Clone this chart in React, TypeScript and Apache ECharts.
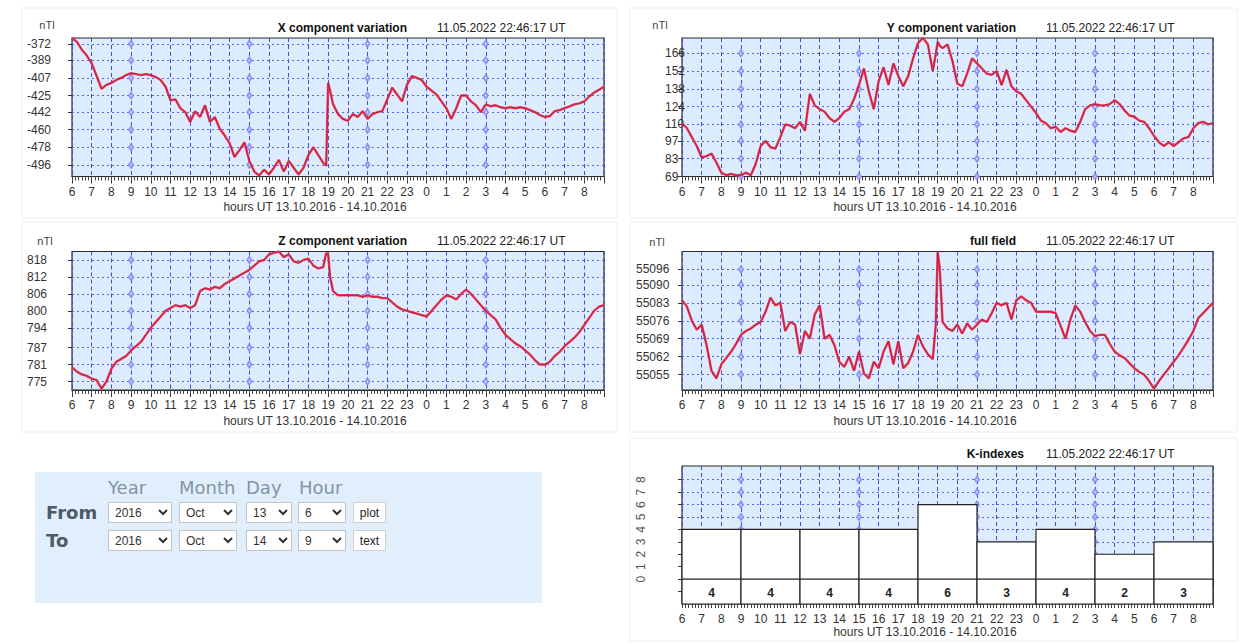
import React, { useEffect, useRef } from "react";
import * as echarts from "echarts";

// ---------- data ----------
const START_HOUR_UT = 6; // 13.10.2016 06:00 UT
const SPAN_HOURS = 27; // until 14.10.2016 09:00 UT
const MINOR_TICKS_PER_HOUR = 6;
const TIMESTAMP = "11.05.2022 22:46:17 UT";
const HOURS_TITLE = "hours UT 13.10.2016 - 14.10.2016";

// sampling times (hours since 06:00 UT), quarter-hourly plus two samples around the 19:00 jump
const SAMPLE_HOURS: number[] = (() => {
  const h: number[] = [];
  for (let i = 0; i <= 108; i++) h.push(i / 4);
  h.splice(52, 0, 12.9);
  h.splice(54, 0, 13.1);
  return h;
})();

const X_NT = [
  -366, -370, -378, -384, -392, -405, -418, -414, -412, -409, -407, -404,
  -402, -403, -404, -403, -404, -406, -409, -416, -430, -429, -438, -442,
  -452, -441, -447, -435, -452, -447, -459, -466, -474, -488, -481, -473,
  -492, -503, -507, -501, -506, -499, -491, -503, -492, -499, -506, -499,
  -486, -478, -486, -494,
  -497, -412, -420,
  -434, -444, -449,
  -451, -444, -447, -441, -449, -444, -442, -441, -429, -417, -424, -431,
  -414, -405, -407, -409, -416, -420, -424, -431, -438, -449, -438, -425,
  -425, -431, -435, -442, -434, -436, -435, -437, -438, -437, -438, -437,
  -438, -440, -442, -445, -447, -446, -441, -440, -438, -436, -434, -433,
  -431, -426, -422, -419, -416,
];

const Y_NT = [
  111, 107, 100, 93, 84, 85, 87, 80, 72, 70, 71, 70,
  70, 72, 70, 79, 93, 97, 92, 91, 100, 110, 109, 107,
  112, 105, 134, 125, 122, 120, 115, 112, 115, 120, 122, 130,
  141, 154, 136, 122, 144, 155, 141, 158, 148, 140, 148, 162,
  174, 178, 173, 152,
  165, 175, 172,
  170, 173, 160,
  142, 140, 150, 162, 158, 154, 150, 149, 152, 141, 153, 140,
  136, 134, 129, 124, 119, 113, 111, 107, 108, 104, 107, 105,
  104, 112, 122, 125, 126, 125, 125, 126, 129, 126, 121, 117,
  116, 113, 112, 107, 101, 96, 93, 96, 93, 96, 99, 100,
  107, 111, 112, 110, 111,
];

const Z_NT = [
  780, 778.5, 777.5, 777, 776, 775.5, 772.5, 775, 779.5, 782, 783, 784,
  786, 787.5, 789, 791.5, 794, 796, 798, 800, 801, 802, 801.5, 802,
  801, 802, 807, 808, 807.5, 808.5, 808, 809.5, 810.5, 811.5, 812.5, 813.5,
  814.5, 816, 817.5, 818, 820, 820.5, 821, 819, 820, 817.5, 817, 818,
  818.5, 816, 815, 815.5,
  820.5, 820, 812,
  807, 805.5, 805.5,
  805.5, 805.5, 805.5, 805, 805.5, 805, 805, 804.5, 804.5, 803, 801.5, 800.5,
  800, 799.5, 799, 798.5, 798, 800, 802, 804, 805.5, 805, 804, 806,
  807.5, 806, 804, 802, 800, 798.5, 797, 794, 791.5, 790, 788.5, 787.5,
  786, 784.5, 782.5, 781, 781, 782, 784, 785.5, 787.5, 789, 790.5, 792.5,
  795, 797.5, 800, 801.5, 802,
];

const F_NT = [
  55084, 55081.5, 55076, 55072.5, 55074.5, 55066.5, 55056.5, 55053.5, 55059, 55061.5, 55064, 55067,
  55070.5, 55072, 55073, 55074.5, 55075.5, 55079.5, 55085, 55082, 55083, 55072, 55075.5, 55074.5,
  55063, 55072, 55069, 55078.5, 55082, 55069, 55070.5, 55066.5, 55060, 55058, 55062, 55056.5,
  55064, 55055.5, 55053.5, 55060, 55057.5, 55064, 55068, 55059, 55068, 55057.5, 55059.5, 55064,
  55070.5, 55066, 55063, 55061,
  55074, 55103, 55097,
  55075.5, 55073, 55072,
  55074.5, 55071, 55075, 55072.5, 55074.5, 55076.5, 55075.5, 55079, 55083, 55082, 55083, 55076.5,
  55084, 55085.5, 55084, 55083, 55079.5, 55079.5, 55079.5, 55079.5, 55079, 55074, 55069, 55076.5,
  55082, 55079.5, 55075.5, 55072, 55070, 55070.5, 55070.5, 55067, 55064, 55062.5, 55061.5, 55059.5,
  55057.5, 55056, 55055, 55052.5, 55049.5, 55052.5, 55055, 55057.5, 55060, 55062.5, 55065.5, 55068.5,
  55072, 55077, 55079, 55081, 55083,
];

const X_TICKS = [-372, -389, -407, -425, -442, -460, -478, -496];
const Y_TICKS = [166, 152, 138, 124, 110, 97, 83, 69];
const Z_TICKS = [818, 812, 806, 800, 794, 787, 781, 775];
const F_TICKS = [55096, 55090, 55083, 55076, 55069, 55062, 55055];

const K_START_HOURS = [0, 3, 6, 9, 12, 15, 18, 21, 24];
const K_VALUES = [4, 4, 4, 4, 6, 3, 4, 2, 3];
const K_TICKS = [-1, 0, 1, 2, 3, 4, 5, 6, 7, 8];
const K_LABELS = [0, 1, 2, 3, 4, 5, 6, 7, 8];

const MARK_HOURS = [3, 9, 15, 21];

const FORM_COLUMNS = ["Year", "Month", "Day", "Hour"];
const FROM_VALUES = ["2016", "Oct", "13", "6"];
const TO_VALUES = ["2016", "Oct", "14", "9"];

// ---------- styling / layout ----------
const FONT = "'Liberation Sans', Arial, sans-serif";
const PLOT_BG = "#dcebfd";
const LABEL_COLOR = "#333";

type Panel = {
  title: string;
  grid: { left: number; top: number; width: number; height: number };
  min: number;
  max: number;
  ticks: number[];
  values?: number[];
  labelMargin: number;
  titleRight: number;
  tsLeft: number;
  titleY: number;
  unit?: [number, number];
  hoursCenter: number;
  hoursY: number;
};

const PANELS: Panel[] = [
  {
    title: "X component variation",
    grid: { left: 72, top: 38, width: 532, height: 138.5 },
    min: -508, max: -366, ticks: X_TICKS, values: X_NT, labelMargin: 45,
    titleRight: 407, tsLeft: 437, titleY: 28, unit: [47, 25], hoursCenter: 315, hoursY: 207,
  },
  {
    title: "Y component variation",
    grid: { left: 682, top: 38, width: 531, height: 138.5 },
    min: 69, max: 178, ticks: Y_TICKS, values: Y_NT, labelMargin: 17,
    titleRight: 1016, tsLeft: 1046, titleY: 28, unit: [660, 25], hoursCenter: 925, hoursY: 207,
  },
  {
    title: "Z component variation",
    grid: { left: 72, top: 251.5, width: 532, height: 138.5 },
    min: 772, max: 821, ticks: Z_TICKS, values: Z_NT, labelMargin: 45,
    titleRight: 407, tsLeft: 437, titleY: 241, unit: [45, 241], hoursCenter: 315, hoursY: 421,
  },
  {
    title: "full field",
    grid: { left: 682, top: 251.5, width: 531, height: 138.5 },
    min: 55049, max: 55103, ticks: F_TICKS, values: F_NT, labelMargin: 46,
    titleRight: 1016, tsLeft: 1046, titleY: 241, unit: [657, 242], hoursCenter: 925, hoursY: 421,
  },
  {
    title: "K-indexes",
    grid: { left: 682, top: 466, width: 531, height: 138 },
    min: -2, max: 9.1, ticks: K_TICKS, labelMargin: 41,
    titleRight: 1024, tsLeft: 1046, titleY: 454, hoursCenter: 925, hoursY: 632,
  },
];

function buildOption(): any {
  const grids: any[] = [];
  const xAxes: any[] = [];
  const minorXAxes: any[] = [];
  const yAxes: any[] = [];
  const series: any[] = [];
  const graphics: any[] = [];

  // faint panel frames
  const frames = [
    [22, 8, 595, 210], [630, 8, 607, 210],
    [22, 222, 595, 210], [630, 222, 607, 210],
    [630, 438, 607, 203],
  ];
  frames.forEach(([x, y, w, h]) =>
    graphics.push({
      type: "rect", z: -10, silent: true,
      shape: { x, y, width: w, height: h },
      style: { fill: "#fff", stroke: "#eeeeee", lineWidth: 1 },
    })
  );

  PANELS.forEach((p, i) => {
    const isK = i === 4;
    grids.push({
      ...p.grid,
      show: true,
      backgroundColor: PLOT_BG,
      borderColor: "#2a2a2a",
      borderWidth: 1.2,
      containLabel: false,
      outerBoundsMode: "none",
    });
    xAxes.push({
      type: "value", gridIndex: i, position: "bottom", min: 0, max: SPAN_HOURS, interval: 1,
      axisLine: { show: true, lineStyle: { color: "#2a2a2a", width: 1.2 } },
      axisTick: { show: true, length: 7, lineStyle: { color: "#333" } },
      axisLabel: {
        show: true, margin: 9, color: LABEL_COLOR, fontSize: 12, fontFamily: FONT,
        formatter: (v: number) => (v >= SPAN_HOURS ? "" : String((v + START_HOUR_UT) % 24)),
      },
      splitLine: { show: true, lineStyle: { color: "#3f4fd0", type: [4, 3], width: 1 } },
    });
    // minor (10-minute) ticks
    minorXAxes.push({
      type: "value", gridIndex: i, position: "bottom", offset: 0,
      min: 0, max: SPAN_HOURS, interval: 1 / MINOR_TICKS_PER_HOUR,
      axisLine: { show: false },
      axisTick: { show: true, length: 4, lineStyle: { color: "#444" } },
      axisLabel: { show: false },
      splitLine: { show: false },
    });
    yAxes.push({
      type: "value", gridIndex: i, min: p.min, max: p.max,
      axisLine: { show: false },
      axisTick: { show: true, length: 4, customValues: p.ticks, lineStyle: { color: "#333" } },
      axisLabel: isK
        ? {
            show: true, customValues: K_LABELS, margin: p.labelMargin, rotate: 90,
            align: "center", verticalAlign: "middle",
            color: "#555", fontSize: 12, fontFamily: FONT,
            formatter: (v: number) => String(v),
          }
        : {
            show: true, customValues: p.ticks, margin: p.labelMargin, align: "left",
            color: LABEL_COLOR, fontSize: 12, fontFamily: FONT,
            formatter: (v: number) => String(v),
          },
      splitLine: { show: true, lineStyle: { color: "#5566ee", type: [2, 3], width: 1 } },
    });

    // small hollow marks on the grid
    const markTicks = isK ? K_LABELS.filter((v) => v > 0) : p.ticks;
    const markData: number[][] = [];
    MARK_HOURS.forEach((h) => markTicks.forEach((t) => markData.push([h, t])));
    series.push({
      type: "scatter", xAxisIndex: i, yAxisIndex: i, data: markData, silent: true,
      symbol: "emptyDiamond", symbolSize: [4, 6], z: 1,
      itemStyle: { color: "#8080f4", borderColor: "#8080f4", borderWidth: 0.8, opacity: 0.8 },
    });

    if (p.values) {
      const data = SAMPLE_HOURS.map((h, j) => [h, p.values![j]]);
      series.push({
        type: "line", xAxisIndex: i, yAxisIndex: i, data, symbol: "none", silent: true,
        lineStyle: { color: "#f5384c", width: 2.4 }, z: 3,
      });
      series.push({
        type: "line", xAxisIndex: i, yAxisIndex: i, data, symbol: "none", silent: true,
        lineStyle: { color: "#9a2052", width: 0.8 }, z: 4,
      });
    } else {
      series.push({
        type: "custom", xAxisIndex: i, yAxisIndex: i, z: 3, silent: true,
        data: K_START_HOURS.map((s, j) => [s, K_VALUES[j]]),
        renderItem: (_params: any, api: any) => {
          const start = api.value(0);
          const k = api.value(1);
          const bl = api.coord([start, p.min]);
          const tr = api.coord([start + 3, k]);
          const z0 = api.coord([start, 0]);
          const z1 = api.coord([start + 3, 0]);
          const lbl = api.coord([start + 1.5, -1.1]);
          return {
            type: "group",
            children: [
              {
                type: "rect",
                shape: { x: bl[0], y: tr[1], width: tr[0] - bl[0], height: bl[1] - tr[1] },
                style: { fill: "#ffffff", stroke: "#222", lineWidth: 1.2 },
              },
              {
                type: "line",
                shape: { x1: z0[0], y1: z0[1], x2: z1[0], y2: z1[1] },
                style: { stroke: "#222", lineWidth: 1.2 },
              },
              {
                type: "text",
                style: {
                  text: String(k), x: lbl[0], y: lbl[1],
                  align: "center", verticalAlign: "middle",
                  textAlign: "center", textVerticalAlign: "middle",
                  font: `bold 12px ${FONT}`, fill: "#222",
                },
              },
            ],
          };
        },
      });
    }

    // texts
    graphics.push({
      type: "text", x: p.titleRight, y: p.titleY, silent: true,
      style: {
        text: p.title, font: `bold 12px ${FONT}`, fill: "#111",
        align: "right", verticalAlign: "middle", textAlign: "right", textVerticalAlign: "middle",
      },
    });
    graphics.push({
      type: "text", x: p.tsLeft, y: p.titleY, silent: true,
      style: {
        text: TIMESTAMP, font: `12px ${FONT}`, fill: "#222",
        align: "left", verticalAlign: "middle", textAlign: "left", textVerticalAlign: "middle",
      },
    });
    if (p.unit) {
      graphics.push({
        type: "text", x: p.unit[0], y: p.unit[1], silent: true,
        style: {
          text: "nTl", font: `11px ${FONT}`, fill: "#444",
          align: "center", verticalAlign: "middle", textAlign: "center", textVerticalAlign: "middle",
        },
      });
    }
    graphics.push({
      type: "text", x: p.hoursCenter, y: p.hoursY, silent: true,
      style: {
        text: HOURS_TITLE, font: `12px ${FONT}`, fill: "#333",
        align: "center", verticalAlign: "middle", textAlign: "center", textVerticalAlign: "middle",
      },
    });
  });

  return {
    animation: false,
    backgroundColor: "#ffffff",
    grid: grids,
    xAxis: [...xAxes, ...minorXAxes],
    yAxis: yAxes,
    series,
    graphic: { elements: graphics },
  };
}

// ---------- form ----------
const COLUMN_LEFTS = [108, 179, 246, 299];
const SELECT_LEFTS = [108, 179, 246, 298];
const SELECT_WIDTHS = [64, 58, 46, 48];

const selectStyle = (i: number, top: number): React.CSSProperties => ({
  position: "absolute",
  left: SELECT_LEFTS[i],
  top,
  width: SELECT_WIDTHS[i],
  height: 21,
  fontSize: 12,
  fontFamily: FONT,
  color: "#333",
  background: "#fff",
  border: "1px solid #c4c4c4",
  borderRadius: 0,
  padding: "0 2px",
  boxSizing: "border-box",
});

const buttonStyle = (top: number): React.CSSProperties => ({
  position: "absolute",
  left: 353,
  top,
  width: 33,
  height: 21,
  fontSize: 12,
  fontFamily: FONT,
  color: "#222",
  background: "#fff",
  border: "1px solid #d0d0d0",
  padding: 0,
  boxSizing: "border-box",
});

const labelStyle = (left: number, top: number, bold: boolean, color: string): React.CSSProperties => ({
  position: "absolute",
  left,
  top,
  fontSize: 18,
  lineHeight: "20px",
  fontFamily: "'DejaVu Sans', Verdana, sans-serif",
  fontWeight: bold ? 700 : 400,
  color,
  whiteSpace: "nowrap",
});

function DateForm() {
  return (
    <>
      <div style={{ position: "absolute", left: 35, top: 472, width: 507, height: 131, background: "#e1effc" }} />
      {FORM_COLUMNS.map((c, i) => (
        <div key={c} style={labelStyle(COLUMN_LEFTS[i], 478, false, "#8393a8")}>{c}</div>
      ))}
      <div style={labelStyle(46, 503, true, "#4e5a68")}>From</div>
      <div style={labelStyle(46, 531, true, "#4e5a68")}>To</div>
      {FROM_VALUES.map((v, i) => (
        <select key={"f" + i} defaultValue={v} style={selectStyle(i, 502)}>
          <option value={v}>{v}</option>
        </select>
      ))}
      {TO_VALUES.map((v, i) => (
        <select key={"t" + i} defaultValue={v} style={selectStyle(i, 530)}>
          <option value={v}>{v}</option>
        </select>
      ))}
      <button style={buttonStyle(502)}>plot</button>
      <button style={buttonStyle(530)}>text</button>
    </>
  );
}

export default function App() {
  const ref = useRef<HTMLDivElement>(null);
  useEffect(() => {
    if (!ref.current) return;
    const chart = echarts.init(ref.current, null, { renderer: "svg" });
    chart.setOption(buildOption());
    return () => chart.dispose();
  }, []);
  return (
    <div style={{ position: "fixed", left: 0, top: 0, width: 1243, height: 643, background: "#fff", overflow: "hidden" }}>
      <div ref={ref} style={{ position: "absolute", left: 0, top: 0, width: 1243, height: 643 }} />
      <DateForm />
    </div>
  );
}
